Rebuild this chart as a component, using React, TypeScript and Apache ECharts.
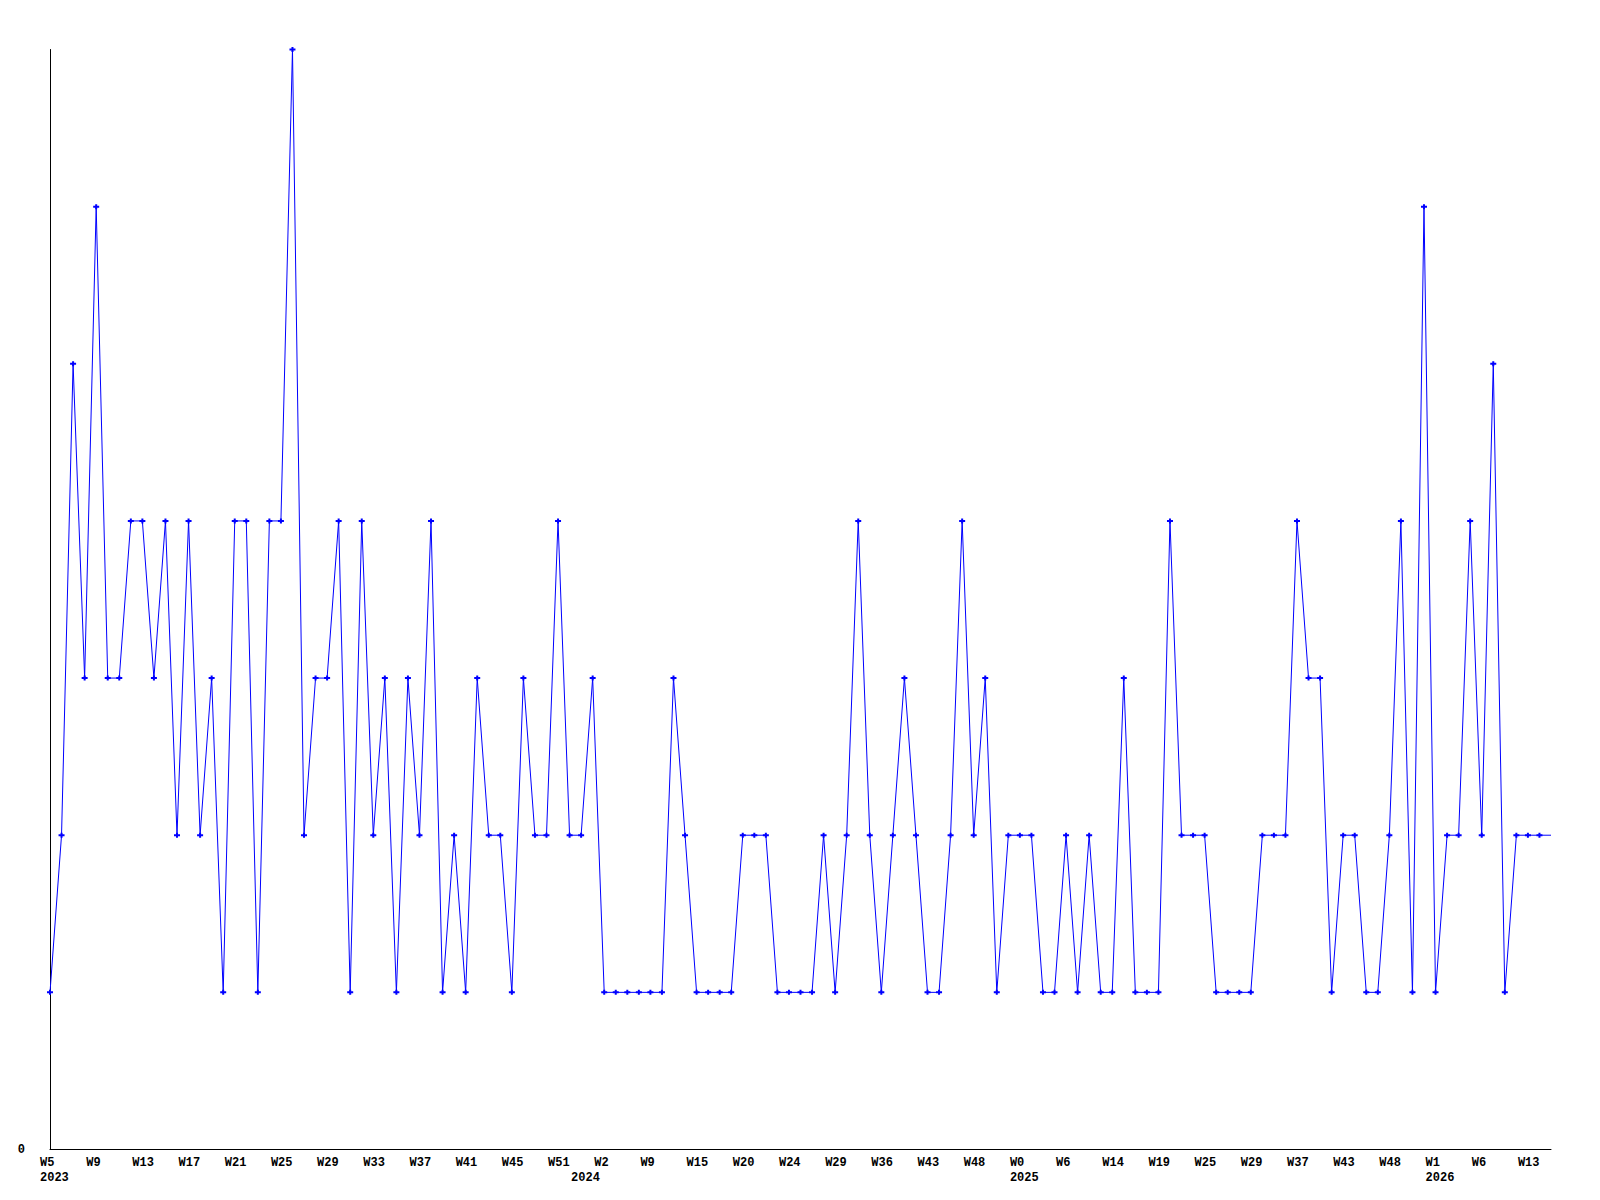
import React, { useEffect, useRef } from "react";
import * as echarts from "echarts";

const weeks = [
  "W5", "W6", "W7", "W8", "W9", "W10", "W11", "W12", "W13", "W14",
  "W15", "W16", "W17", "W18", "W19", "W20", "W21", "W22", "W23", "W24",
  "W25", "W26", "W27", "W28", "W29", "W30", "W31", "W32", "W33", "W34",
  "W35", "W36", "W37", "W38", "W39", "W40", "W41", "W42", "W43", "W44",
  "W45", "W46", "W48", "W49", "W51", "W52",
  "W0", "W1", "W2", "W4", "W5", "W7", "W9", "W10", "W12", "W13",
  "W15", "W16", "W17", "W19", "W20", "W21", "W22", "W23", "W24", "W25",
  "W26", "W28", "W29", "W31", "W33", "W34", "W36", "W38", "W39", "W41",
  "W43", "W44", "W45", "W47", "W48", "W49", "W50", "W52",
  "W0", "W1", "W3", "W5", "W6", "W8", "W10", "W12", "W14", "W15",
  "W16", "W18", "W19", "W20", "W22", "W24", "W25", "W26", "W27", "W28",
  "W29", "W31", "W33", "W35", "W37", "W38", "W40", "W42", "W43", "W44",
  "W45", "W47", "W48", "W49", "W50", "W52",
  "W1", "W2", "W3", "W5", "W6", "W8", "W10", "W11", "W13", "W14", "W15",
];

const yearStarts = [0, 46, 84, 120];
const years = ["2023", "2024", "2025", "2026"];

const values = [
  1, 2, 5, 3, 6, 3, 3, 4, 4, 3,
  4, 2, 4, 2, 3, 1, 4, 4, 1, 4,
  4, 7, 2, 3, 3, 4, 1, 4, 2, 3,
  1, 3, 2, 4, 1, 2, 1, 3, 2, 2,
  1, 3, 2, 2, 4, 2, 2, 3, 1, 1,
  1, 1, 1, 1, 3, 2, 1, 1, 1, 1,
  2, 2, 2, 1, 1, 1, 1, 2, 1, 2,
  4, 2, 1, 2, 3, 2, 1, 1, 2, 4,
  2, 3, 1, 2, 2, 2, 1, 1, 2, 1,
  2, 1, 1, 3, 1, 1, 1, 4, 2, 2,
  2, 1, 1, 1, 1, 2, 2, 2, 4, 3,
  3, 1, 2, 2, 1, 1, 2, 4, 1, 6,
  1, 2, 2, 4, 2, 5, 1, 2, 2, 2,
  2,
];

const yTicks = [0];

const plusSymbol =
  "path://M2,0L4,0L4,1.5L6,1.5L6,3.5L4,3.5L4,5L2,5L2,3.5L0,3.5L0,1.5L2,1.5Z";

const fontFamily = "'Liberation Mono', 'DejaVu Sans Mono', monospace";

export default function App() {
  const ref = useRef<HTMLDivElement>(null);

  useEffect(() => {
    if (!ref.current) return;
    const chart = echarts.init(ref.current, null, { renderer: "svg" });
    chart.setOption({
      animation: false,
      backgroundColor: "#ffffff",
      grid: { left: 50, right: 49, top: 49.5, bottom: 50.5, containLabel: false },
      xAxis: {
        type: "category",
        data: weeks,
        boundaryGap: false,
        axisLine: { show: true, lineStyle: { color: "#000000", width: 1 } },
        axisTick: { show: false },
        splitLine: { show: false },
        axisLabel: {
          interval: (index: number) => index % 4 === 0 || yearStarts.indexOf(index) >= 0,
          formatter: (value: string, index: number) => {
            const week = index % 4 === 0 ? value : "";
            const yi = yearStarts.indexOf(index);
            return yi >= 0 ? week + "\n" + years[yi] : week;
          },
          align: "left",
          padding: [0, 0, 0, -10],
          margin: 6,
          color: "#000000",
          fontFamily,
          fontWeight: "bold",
          fontSize: 12,
          lineHeight: 15,
        },
      },
      yAxis: {
        type: "value",
        min: 0,
        max: 7,
        interval: 1,
        axisLine: { show: true, lineStyle: { color: "#000000", width: 1 } },
        axisTick: { show: false },
        splitLine: { show: false },
        axisLabel: {
          formatter: (v: number) => (yTicks.indexOf(v) >= 0 ? String(v) : ""),
          margin: 25,
          color: "#000000",
          fontFamily,
          fontWeight: "bold",
          fontSize: 12,
        },
      },
      series: [
        {
          type: "line",
          data: values,
          symbol: (_v: any, p: any) =>
            p.dataIndex === values.length - 1 ? "none" : plusSymbol,
          symbolSize: [6, 5],
          showAllSymbol: true,
          itemStyle: { color: "#0000ff" },
          lineStyle: { color: "#0000ff", width: 1 },
          emphasis: { disabled: true },
        },
      ],
    });
    return () => chart.dispose();
  }, []);

  return (
    <div
      ref={ref}
      style={{ position: "absolute", left: 0, top: 0, width: 1600, height: 1200 }}
    />
  );
}
